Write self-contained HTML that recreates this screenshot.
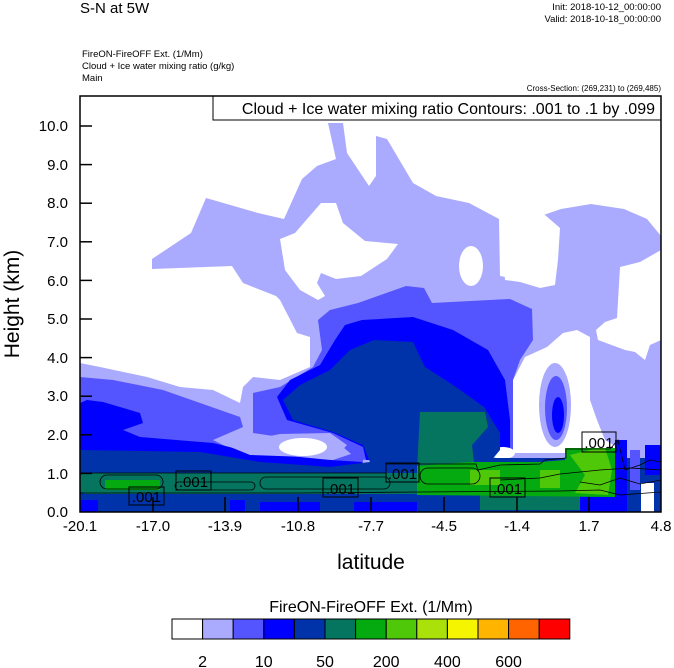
<!DOCTYPE html>
<html><head><style>
body{margin:0;background:#fff;}
svg{display:block;font-family:"Liberation Sans",sans-serif;}
</style></head><body>
<svg width="674" height="668" viewBox="0 0 674 668" xmlns="http://www.w3.org/2000/svg">
<rect width="674" height="668" fill="#fff"/>
<text x="80" y="13" font-size="15">S-N at 5W</text>
<text x="661" y="10" font-size="9.5" text-anchor="end">Init: 2018-10-12_00:00:00</text>
<text x="661" y="22" font-size="9.5" text-anchor="end">Valid: 2018-10-18_00:00:00</text>
<text x="82" y="57" font-size="9.5">FireON-FireOFF Ext.   (1/Mm)</text>
<text x="82" y="69" font-size="9.5">Cloud + Ice water mixing ratio   (g/kg)</text>
<text x="82" y="81" font-size="9.5">Main</text>
<text x="661" y="91" font-size="8" text-anchor="end">Cross-Section: (269,231) to (269,485)</text>
<defs><clipPath id="c"><rect x="80" y="96" width="581" height="416"/></clipPath></defs>
<g clip-path="url(#c)">
<rect x="80" y="96" width="581" height="416" fill="#aaaaff"/>
<polygon fill="#fff" points="80,96 661,96 661,236 647,219 624,209 591,204 561,209 532,219 525,250 517,279 500,276 499,219 469,203 436,196 413,183 387,139 376,136 376,176 369,186 347,153 343,123 328,123 336,159 317,166 302,179 284,219 258,213 206,198 191,233 152,259 152,269 232,266 243,283 276,296 280,300 297,333 310,337 310,367 280,380 253,377 243,387 240,403 213,390 180,387 147,377 100,367 80,363"/>
<polygon fill="#fff" points="280,239 295,233 321,203 336,203 343,223 365,241 398,244 387,259 361,276 336,279 321,273 317,283 325,296 318,300 300,290 285,270"/>
<ellipse cx="471" cy="266" rx="12" ry="20" fill="#fff"/>
<polygon fill="#fff" points="500,213 520,212 545,215 560,228 558,260 555,285 540,288 520,282 505,280"/>
<polygon fill="#fff" points="513,453 513,380 525,357 547,347 563,333 577,330 590,337 590,400 597,420 605,440 617,447 600,453"/>
<polygon fill="#fff" points="620,267 640,262 661,250 661,340 650,345 645,360 635,352 625,350 598,340 596,330 605,322 617,318"/>
<ellipse cx="555" cy="405" rx="16" ry="42" fill="#aaaaff"/>
<ellipse cx="556" cy="408" rx="11" ry="32" fill="#5555ff"/>
<ellipse cx="558" cy="415" rx="6" ry="18" fill="#0000ff"/>
<polygon fill="#5555ff" points="80,377 113,380 163,390 240,417 243,427 213,440 247,457 333,460 363,450 363,470 80,470"/>
<polygon fill="#5555ff" points="253,393 280,387 313,367 322,350 318,320 330,310 358,303 406,286 424,288 432,303 510,299 532,309 533,340 520,360 513,380 513,455 358,460 343,447 335,440 280,437 253,433"/>
<polygon fill="#0000ff" points="80,403 87,400 103,402 140,413 143,423 123,430 140,437 213,443 250,452 330,460 362,462 362,470 80,470"/>
<polygon fill="#aaaaff" points="213,440 250,440 280,434 330,433 347,445 335,458 250,455"/>
<ellipse cx="303" cy="447" rx="24" ry="9" fill="#fff"/>
<polygon fill="#0000ff" points="277,397 290,380 320,365 335,340 345,325 362,320 413,317 453,330 488,350 505,380 510,420 510,455 366,460 363,447 333,433 287,420"/>
<ellipse cx="503" cy="453" rx="12" ry="6" fill="#fff"/>
<polygon fill="#0033aa" points="283,400 300,385 330,370 350,350 374,340 413,342 425,367 456,387 484,407 500,433 500,450 490,462 370,462 363,445 333,432 293,420"/>
<polygon fill="#0033aa" points="80,450 200,452 260,462 330,467 370,462 490,458 661,458 661,512 80,512"/>
<rect x="615" y="440" width="12" height="72" fill="#0000ff"/>
<rect x="630" y="450" width="10" height="40" fill="#5555ff"/>
<rect x="645" y="445" width="16" height="30" fill="#0000ff"/>
<rect x="641" y="483" width="13" height="29" fill="#fff"/>
<rect x="80" y="500" width="18" height="12" fill="#0000ff"/>
<rect x="230" y="500" width="15" height="12" fill="#0000ff"/>
<rect x="260" y="502" width="60" height="10" fill="#0000ff"/>
<rect x="354" y="502" width="63" height="10" fill="#0000ff"/>
<rect x="580" y="497" width="35" height="15" fill="#0000ff"/>
<polygon fill="#057560" points="420,412 485,412 488,427 472,445 475,470 417,470"/>
<rect x="80" y="473" width="520" height="21" rx="5" fill="#057560"/>
<rect x="480" y="494" width="100" height="16" fill="#057560"/>
<rect x="105" y="480" width="55" height="10" fill="#05aa10"/>
<polygon fill="#05aa10" points="417,466 470,462 540,462 565,460 565,448 615,448 615,497 417,495"/>
<polygon fill="#50c80a" points="570,455 590,450 605,448 612,470 608,495 575,493 585,475"/>
<rect x="470" y="470" width="30" height="15" fill="#50c80a"/>
<rect x="540" y="470" width="20" height="18" fill="#50c80a"/>
<g fill="none" stroke="#000" stroke-width="0.8">
<polyline points="80,473 386,473 386,464 476,464 478,470 500,465 540,464 545,460 566,458 566,449 610,449 618,440 625,470 640,465 650,460 661,462"/>
<polyline points="80,493 300,493 420,492 560,491 600,490 620,495 661,492"/>
<rect x="100" y="475" width="63" height="14" rx="7"/>
<rect x="175" y="482" width="80" height="8" rx="4"/>
<rect x="260" y="477" width="130" height="12" rx="6"/>
<rect x="420" y="468" width="60" height="16" rx="8"/>
<polyline points="500,480 540,478 560,474 600,470 630,468 661,470"/>
<polyline points="580,482 600,485 620,478 640,484 661,480"/>
</g>
<g font-size="15" text-anchor="middle">
<rect x="129" y="487" width="35" height="18" fill="none" stroke="#000"/><text x="146.5" y="502">.001</text>
<rect x="176" y="471" width="35" height="19" fill="none" stroke="#000"/><text x="193.5" y="487">.001</text>
<rect x="323" y="478" width="35" height="19" fill="none" stroke="#000"/><text x="340.5" y="494">.001</text>
<rect x="386" y="463" width="33" height="19" fill="none" stroke="#000"/><text x="402.5" y="479">.001</text>
<rect x="490" y="478" width="35" height="19" fill="none" stroke="#000"/><text x="507.5" y="494">.001</text>
<rect x="582" y="432" width="34" height="20" fill="none" stroke="#000"/><text x="599" y="448">.001</text>
</g>
</g>
<rect x="213" y="96" width="448" height="24" fill="#fff" stroke="#000" stroke-width="1"/>
<text x="655" y="114" font-size="16" text-anchor="end">Cloud + Ice water mixing ratio Contours: .001 to .1 by .099</text>
<rect x="80" y="96" width="581" height="416" fill="none" stroke="#000" stroke-width="1.5"/>
<g stroke="#000" stroke-width="1.5">
<line x1="80" y1="473.4" x2="92" y2="473.4"/><line x1="80" y1="434.8" x2="92" y2="434.8"/><line x1="80" y1="396.2" x2="92" y2="396.2"/><line x1="80" y1="357.6" x2="92" y2="357.6"/><line x1="80" y1="319" x2="92" y2="319"/><line x1="80" y1="280.4" x2="92" y2="280.4"/><line x1="80" y1="241.8" x2="92" y2="241.8"/><line x1="80" y1="203.2" x2="92" y2="203.2"/><line x1="80" y1="164.6" x2="92" y2="164.6"/><line x1="80" y1="126" x2="92" y2="126"/>
<line x1="153" y1="512" x2="153" y2="497"/><line x1="225" y1="512" x2="225" y2="497"/><line x1="298" y1="512" x2="298" y2="497"/><line x1="371" y1="512" x2="371" y2="497"/><line x1="444" y1="512" x2="444" y2="497"/><line x1="517" y1="512" x2="517" y2="497"/><line x1="589" y1="512" x2="589" y2="497"/>
</g>
<g font-size="15" text-anchor="end">
<text x="68" y="517">0.0</text><text x="68" y="479">1.0</text><text x="68" y="440">2.0</text><text x="68" y="401">3.0</text><text x="68" y="363">4.0</text><text x="68" y="324">5.0</text><text x="68" y="286">6.0</text><text x="68" y="247">7.0</text><text x="68" y="208">8.0</text><text x="68" y="170">9.0</text><text x="68" y="131">10.0</text>
</g>
<g font-size="15" text-anchor="middle">
<text x="80" y="531">-20.1</text><text x="153" y="531">-17.0</text><text x="225" y="531">-13.9</text><text x="298" y="531">-10.8</text><text x="371" y="531">-7.7</text><text x="444" y="531">-4.5</text><text x="517" y="531">-1.4</text><text x="589" y="531">1.7</text><text x="661" y="531">4.8</text>
</g>
<text x="371" y="569" font-size="21" text-anchor="middle">latitude</text>
<text transform="translate(19,304) rotate(-90)" font-size="21" text-anchor="middle">Height (km)</text>
<text x="371" y="612" font-size="16" text-anchor="middle">FireON-FireOFF Ext.  (1/Mm)</text>
<g stroke="#000" stroke-width="1">
<rect x="172" y="619" width="30.6" height="20" fill="#fff"/>
<rect x="202.6" y="619" width="30.6" height="20" fill="#aaaaff"/>
<rect x="233.2" y="619" width="30.6" height="20" fill="#5555ff"/>
<rect x="263.8" y="619" width="30.6" height="20" fill="#0000ff"/>
<rect x="294.4" y="619" width="30.6" height="20" fill="#0033aa"/>
<rect x="325" y="619" width="30.6" height="20" fill="#057560"/>
<rect x="355.6" y="619" width="30.6" height="20" fill="#05aa10"/>
<rect x="386.2" y="619" width="30.6" height="20" fill="#50c80a"/>
<rect x="416.8" y="619" width="30.6" height="20" fill="#aae10a"/>
<rect x="447.4" y="619" width="30.6" height="20" fill="#f5f500"/>
<rect x="478" y="619" width="30.6" height="20" fill="#ffb400"/>
<rect x="508.6" y="619" width="30.6" height="20" fill="#ff6400"/>
<rect x="539.2" y="619" width="30.6" height="20" fill="#ff0000"/>
</g>
<g font-size="16" text-anchor="middle">
<text x="202.6" y="667">2</text><text x="263.8" y="667">10</text><text x="325" y="667">50</text><text x="386.2" y="667">200</text><text x="447.4" y="667">400</text><text x="508.6" y="667">600</text>
</g>
</svg>
</body></html>
